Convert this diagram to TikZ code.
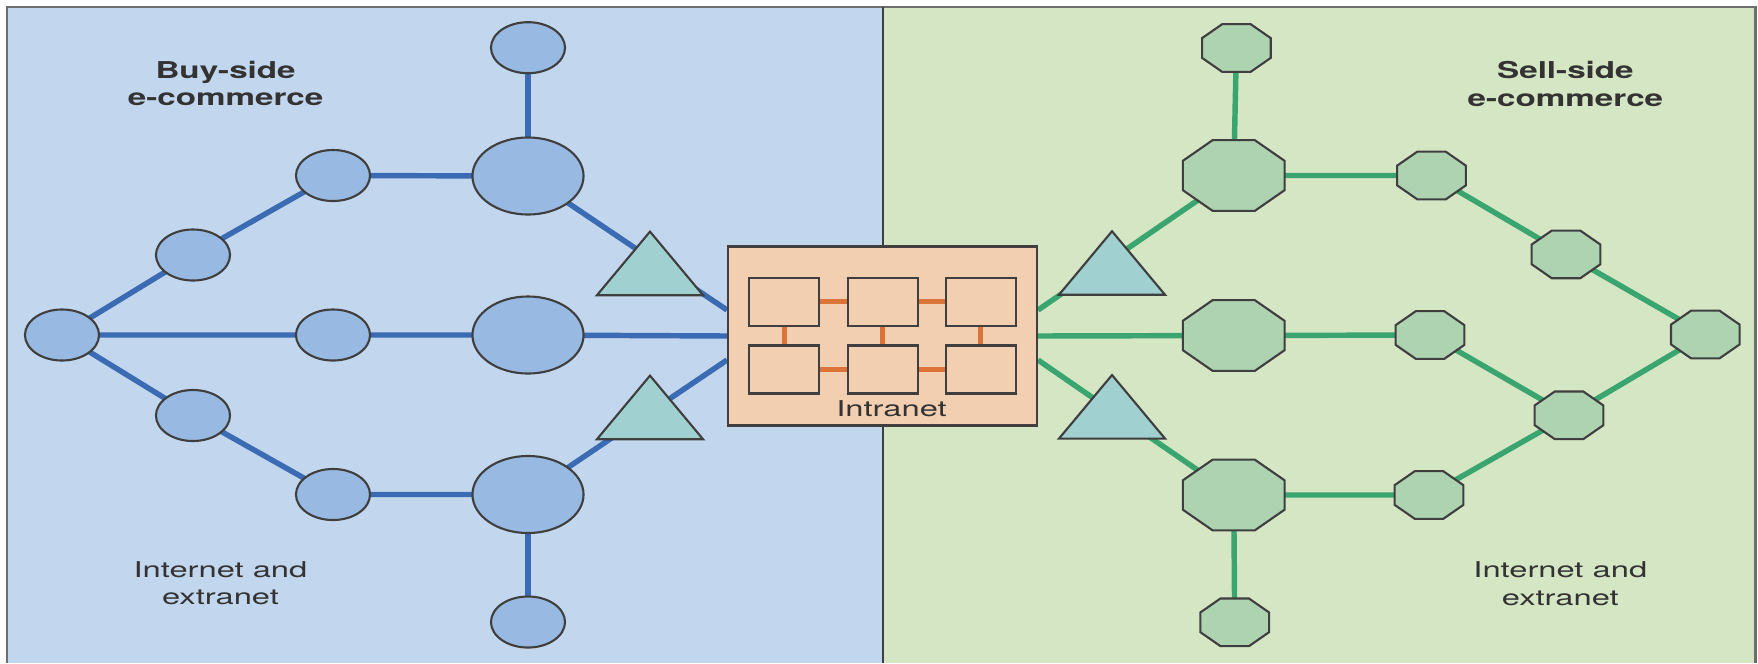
\documentclass[tikz,border=0pt]{standalone}
\usepackage{fontspec}
\setmainfont{TeX Gyre Heros}
\usepackage{graphicx}
\usetikzlibrary{shapes.geometric}
\pgfdeclarelayer{bg}
\pgfsetlayers{bg,main}
\definecolor{bluebg}{HTML}{C2D7EE}
\definecolor{bluenode}{HTML}{98B9E1}
\definecolor{blueline}{HTML}{3A6BB3}
\definecolor{greenbg}{HTML}{D5E6C4}
\definecolor{greennode}{HTML}{ADD3B1}
\definecolor{greenline}{HTML}{3AA56F}
\definecolor{trifill}{HTML}{A0D0D0}
\definecolor{boxfill}{HTML}{F2CFB0}
\definecolor{orangeline}{HTML}{DC743A}
\definecolor{txt}{HTML}{333333}
\definecolor{edgecol}{HTML}{3F3F3F}
\definecolor{framecol}{HTML}{6E6E6E}
\begin{document}
\begin{tikzpicture}[x=0.01cm,y=-0.01cm,
  bnode/.style={ellipse, draw=edgecol, line width=0.6pt, fill=bluenode, inner sep=0pt, minimum width=0.74cm, minimum height=0.51cm},
  bbig/.style={bnode, minimum width=1.11cm, minimum height=0.77cm},
  gnode/.style={regular polygon, regular polygon sides=8, draw=edgecol, line width=0.6pt, fill=greennode, inner sep=0pt, minimum size=0.516cm, xscale=1.44, transform shape},
  gbig/.style={gnode, minimum size=0.765cm},
  tri/.style={regular polygon, regular polygon sides=3, draw=edgecol, line width=0.6pt, fill=trifill, inner sep=0pt, minimum size=1.224cm, yscale=0.692, transform shape},
  ibox/.style={rectangle, draw=edgecol, line width=0.6pt, fill=boxfill, inner sep=0pt, minimum width=0.70cm, minimum height=0.48cm},
  bl/.style={blueline, line width=1.55pt},
  gl/.style={greenline, line width=1.55pt},
  ol/.style={orangeline, line width=1.5pt},
  headtxt/.style={text=txt, align=center, font=\bfseries\fontsize{6.6}{7.8}\selectfont, xscale=1.43, transform shape, inner sep=0pt},
  plaintxt/.style={text=txt, align=center, font=\fontsize{6.2}{7.8}\selectfont, xscale=1.5, transform shape, inner sep=0pt}
]
\useasboundingbox (0,0) rectangle (1758,663);
\begin{pgfonlayer}{bg}
  \fill[bluebg] (7,7) rectangle (882.7,663);
  \fill[greenbg] (882.7,7) rectangle (1755.5,663);
  \draw[framecol, line width=0.7pt] (7,663) -- (7,7) -- (1755.5,7) -- (1755.5,663);
  \draw[edgecol, line width=0.5pt] (882.7,7) -- (882.7,663);
\end{pgfonlayer}

% blue side
\node[bnode] (root) at (62,335) {};
\node[bnode] (u1) at (193,255) {};
\node[bnode] (u2) at (333,175.5) {};
\node[bbig]  (bU) at (528,176) {};
\node[bnode] (btop) at (528,47.7) {};
\node[bnode] (m1) at (333,335) {};
\node[bbig]  (bM) at (528,335) {};
\node[bnode] (l1) at (193,415.5) {};
\node[bnode] (l2) at (333,494.5) {};
\node[bbig]  (bL) at (528,494.5) {};
\node[bnode] (bbot) at (528,622) {};
\node[tri] (tBU) at (650,274) {};
\node[tri] (tBL) at (650,418) {};

% intranet
\node[rectangle, draw=edgecol, line width=0.7pt, fill=boxfill, minimum width=3.084cm, minimum height=1.786cm, inner sep=0pt] (box) at (882.5,336) {};
\node[ibox] (i11) at (784.3,301.8) {};
\node[ibox] (i12) at (882.7,301.8) {};
\node[ibox] (i13) at (980.7,301.8) {};
\node[ibox] (i21) at (784.3,369.5) {};
\node[ibox] (i22) at (882.7,369.5) {};
\node[ibox] (i23) at (980.7,369.5) {};
\draw[ol] (i11) -- (i12);
\draw[ol] (i12) -- (i13);
\draw[ol] (i21) -- (i22);
\draw[ol] (i22) -- (i23);
\draw[ol] (i11) -- (i21);
\draw[ol] (i12) -- (i22);
\draw[ol] (i13) -- (i23);
\node[plaintxt, anchor=base] (intra) at (891.5,416.7) {Intranet};

% green side
\node[gbig]  (gU) at (1233.7,175.5) {};
\node[gnode] (gtop) at (1236.4,48) {};
\node[gnode] (sU) at (1431.5,175.5) {};
\node[gnode] (s2) at (1566,254.4) {};
\node[gnode] (far) at (1705.3,334.5) {};
\node[gbig]  (gM) at (1233.7,335.5) {};
\node[gnode] (sM) at (1430,335) {};
\node[gnode] (s3) at (1569,415.3) {};
\node[gbig]  (gL) at (1233.7,495) {};
\node[gnode] (sL) at (1429,495) {};
\node[gnode] (gbot) at (1234.7,622.3) {};
\node[tri] (tGU) at (1112,273.6) {};
\node[tri] (tGL) at (1112,417.4) {};

\coordinate (boxLU) at ([yshift=0.26cm]box.west);
\coordinate (boxLL) at ([yshift=-0.24cm]box.west);
\coordinate (boxRU) at ([yshift=0.26cm]box.east);
\coordinate (boxRL) at ([yshift=-0.24cm]box.east);

% text
\node[headtxt] (buy) at (225.6,83.5) {Buy-side\\e-commerce};
\node[headtxt] (sell) at (1565.4,84) {Sell-side\\e-commerce};
\node[plaintxt] (inl) at (220.5,583.2) {Internet and\\extranet};
\node[plaintxt] (inr) at (1560.3,583.5) {Internet and\\extranet};

\begin{pgfonlayer}{bg}
  \draw[bl] (root.center) -- (u1.center) -- (u2.center) -- (bU.center);
  \draw[bl] (btop.center) -- (bU.center);
  \draw[bl] (bU.center) -- (boxLU);
  \draw[bl] (root.center) -- (m1.center) -- (bM.center) -- (box.west);
  \draw[bl] (root.center) -- (l1.center) -- (l2.center) -- (bL.center);
  \draw[bl] (bL.center) -- (bbot.center);
  \draw[bl] (bL.center) -- (boxLL);
  \draw[gl] (boxRU) -- (gU.center);
  \draw[gl] (gtop.center) -- (gU.center);
  \draw[gl] (gU.center) -- (sU.center) -- (s2.center) -- (far.center);
  \draw[gl] (box.east) -- (gM.center) -- (sM.center) -- (s3.center) -- (far.center);
  \draw[gl] (boxRL) -- (gL.center) -- (sL.center) -- (s3.center);
  \draw[gl] (gL.center) -- (gbot.center);
\end{pgfonlayer}
\end{tikzpicture}
\end{document}
